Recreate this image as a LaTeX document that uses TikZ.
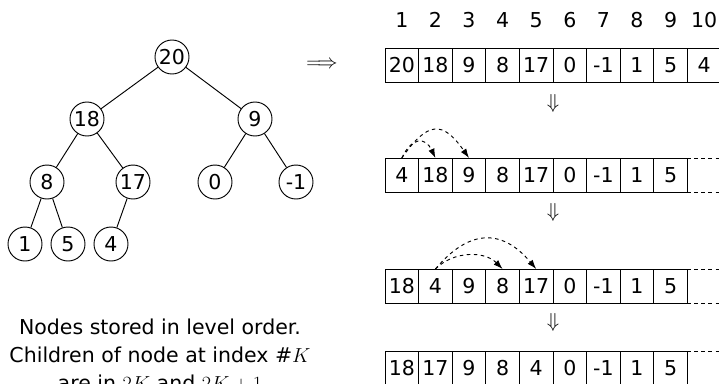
\documentclass[tikz,border=0pt]{standalone}
\usepackage{fontspec}
\setmainfont{DejaVu Sans}
\usetikzlibrary{positioning, arrows.meta}

\begin{document}
\begin{tikzpicture}[x=0.03cm, y=-0.03cm, line width=0.8pt,
  every node/.style={font=\fontsize{17.5}{24}\selectfont},
  tnode/.style={draw, circle, minimum size=1.02cm, inner sep=0pt},
  cell/.style={draw, minimum width=1.008cm, minimum height=1.02cm, inner sep=0pt, outer sep=0pt},
  opencell/.style={minimum width=1.008cm, minimum height=1.02cm, inner sep=0pt, outer sep=0pt},
  swap/.style={-{Latex[length=8pt, width=5.5pt]}, dashed}]
\useasboundingbox (0,0) rectangle (719,383);

% tree
\node[tnode] (t20) at (172,57)  {20};
\node[tnode] (t18) at (87,119)  {18};
\node[tnode] (t9)  at (255,119) {9};
\node[tnode] (t8)  at (47,182)  {8};
\node[tnode] (t17) at (133,182) {17};
\node[tnode] (t0)  at (215,182) {0};
\node[tnode] (tm1) at (296,182) {-1};
\node[tnode] (t1)  at (25,244)  {1};
\node[tnode] (t5)  at (68,244)  {5};
\node[tnode] (t4)  at (111,244) {4};

\draw (t20) -- (t18);
\draw (t20) -- (t9);
\draw (t18) -- (t8);
\draw (t18) -- (t17);
\draw (t9) -- (t0);
\draw (t9) -- (tm1);
\draw (t8) -- (t1);
\draw (t8) -- (t5);
\draw (t17) -- (t4);

\node (imp) at (322,65) {$\Longrightarrow$};

\node[align=center] (note) at (160,355) {Nodes stored in level order.\\Children of node at index \#$K$\\are in $2K$ and $2K+1$};

% arrays
\foreach \i in {1,...,10}
  \node (idx\i) at (368.2+33.6*\i,20) {\i};
\foreach \v [count=\i] in {20,18,9,8,17,0,-1,1,5,4}
  \node[cell] (a\i) at (368.2+33.6*\i,65) {\v};
\node (d1) at (553,103) {$\Downarrow$};

\foreach \v [count=\i] in {4,18,9,8,17,0,-1,1,5}
  \node[cell] (b\i) at (368.2+33.6*\i,175) {\v};
\node[opencell, right=0pt of b9] (b10) {};
\draw[dashed] (b10.north west) -- (b10.north east) (b10.south west) -- (b10.south east);
\draw[swap] (b1.north) to[out=65, in=115, distance=20pt] (b2.north);
\draw[swap] (b1.north) to[out=55, in=125, distance=39pt] (b3.north);
\node (d2) at (553,212) {$\Downarrow$};

\foreach \v [count=\i] in {18,4,9,8,17,0,-1,1,5}
  \node[cell] (c\i) at (368.2+33.6*\i,286) {\v};
\node[opencell, right=0pt of c9] (c10) {};
\draw[dashed] (c10.north west) -- (c10.north east) (c10.south west) -- (c10.south east);
\draw[swap] (c2.north) to[out=45, in=135, distance=22pt] (c4.north);
\draw[swap] (c2.north) to[out=50, in=130, distance=45pt] (c5.north);
\node (d3) at (553,322) {$\Downarrow$};

\foreach \v [count=\i] in {18,17,9,8,4,0,-1,1,5}
  \node[cell] (e\i) at (368.2+33.6*\i,368) {\v};
\node[opencell, right=0pt of e9] (e10) {};
\draw[dashed] (e10.north west) -- (e10.north east) (e10.south west) -- (e10.south east);
\end{tikzpicture}
\end{document}
